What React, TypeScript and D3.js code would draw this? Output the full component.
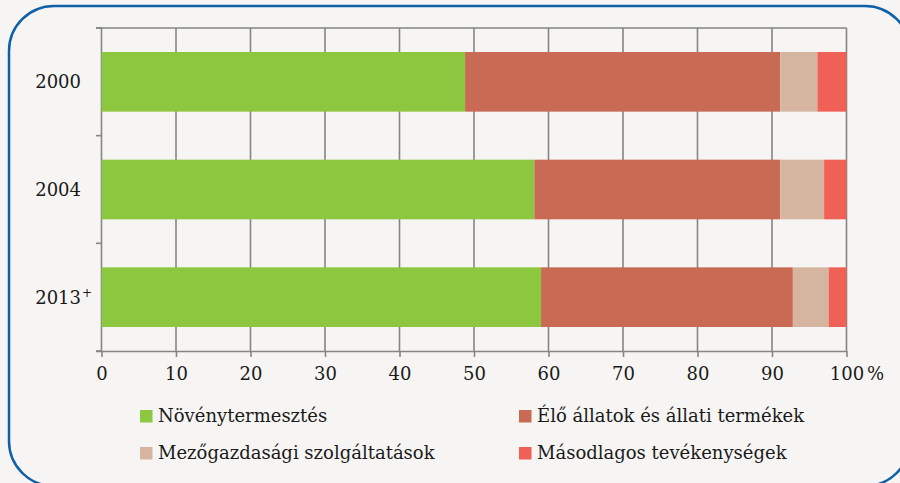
import React, { useRef, useEffect } from 'react';
import * as d3 from 'd3';

const years = ['2000', '2004', '2013'];
const yearMarks = ['', '', '+'];
const seriesNames = [
  'Növénytermesztés',
  'Élő állatok és állati termékek',
  'Mezőgazdasági szolgáltatások',
  'Másodlagos tevékenységek',
];
const colors = ['#8DC63F', '#C96A55', '#D5B5A0', '#EF6157'];
const crops = [48.8, 58.1, 59.0];
const animals = [42.3, 33.0, 33.8];
const services = [5.0, 5.9, 4.8];
const secondary = [3.9, 3.0, 2.4];
const xTicks = [0, 10, 20, 30, 40, 50, 60, 70, 80, 90, 100];

const W = 900;
const H = 483;
const FONT = 'DejaVu Serif';
const FS = '18px';

export default function App() {
  const xAxisRef = useRef<SVGGElement>(null);
  const yAxisRef = useRef<SVGGElement>(null);

  const x = d3.scaleLinear().domain([0, 100]).range([101.5, 846.5]);
  const y = d3.scaleBand().domain(years).range([28, 351]).paddingInner(0.446).paddingOuter(0.223);
  const yEdge = d3.scaleLinear().domain([0, years.length]).range([28, 351]);

  const table = years.map((yr, i) => ({
    year: yr,
    s0: crops[i],
    s1: animals[i],
    s2: services[i],
    s3: secondary[i],
  }));
  const stack = d3.stack<any>().keys(['s0', 's1', 's2', 's3'])(table);

  useEffect(() => {
    const gx = d3.select(xAxisRef.current);
    gx.call(
      d3.axisBottom(x).tickValues(xTicks).tickSize(6).tickSizeOuter(0).tickPadding(10)
        .tickFormat((d: any) => String(d))
    );
    gx.attr('font-family', null).attr('font-size', null);
    gx.select('.domain').attr('stroke', '#858585').attr('stroke-width', 1.6)
      .attr('d', `M96,0.5H${x(100)}`);
    gx.selectAll('.tick line').attr('stroke', '#858585').attr('stroke-width', 1.6);
    gx.selectAll('.tick text')
      .style('font-family', FONT).style('font-size', FS).attr('fill', '#1a1a1a');
    gx.selectAll('.pct').data([0]).join('text').attr('class', 'pct')
      .attr('x', x(100) + 29).attr('y', 29)
      .style('font-family', FONT).style('font-size', FS).attr('fill', '#1a1a1a').text('%');

    const gy = d3.select(yAxisRef.current);
    gy.call(d3.axisLeft(y).tickSize(0).tickFormat(() => ''));
    gy.select('.domain').remove();
    gy.selectAll('.tick text').remove();
    gy.selectAll('.ytick').data(d3.range(years.length + 1)).join('line')
      .attr('class', 'ytick')
      .attr('x1', 96).attr('x2', x(0))
      .attr('y1', (d) => yEdge(d)).attr('y2', (d) => yEdge(d))
      .attr('stroke', '#858585').attr('stroke-width', 1.6);
  }, []);

  const txt = { fontFamily: FONT, fontSize: FS };

  return (
    <svg width={W} height={H} style={{ position: 'absolute', left: 0, top: 0, display: 'block' }}>
      <rect width={W} height={H} fill="#F6F5F3" />
      <rect x={9} y={6} width={901} height={480} rx={45} ry={45}
        fill="none" stroke="#1060A8" strokeWidth={2.5} />

      {/* grid */}
      {xTicks.map((t) => (
        <line key={t} x1={x(t)} x2={x(t)} y1={28} y2={351}
          stroke="#858585" strokeWidth={1.6} />
      ))}
      <line x1={96} x2={x(100)} y1={28} y2={28} stroke="#858585" strokeWidth={1.6} />

      {/* bars */}
      {stack.map((layer, si) => (
        <g key={si} fill={colors[si]}>
          {layer.map((d, i) => (
            <rect key={i} x={x(d[0])} width={x(d[1]) - x(d[0])}
              y={y(years[i])} height={y.bandwidth()} />
          ))}
        </g>
      ))}

      <g ref={xAxisRef} transform="translate(0,351)" />
      <g ref={yAxisRef} />

      {/* category labels */}
      {years.map((yr, i) => {
        const cy = (y(yr) ?? 0) + y.bandwidth() / 2 + 6.5;
        return (
          <g key={yr}>
            <text x={81} y={cy} textAnchor="end" style={txt} fill="#1a1a1a">{yr}</text>
            {yearMarks[i] && (
              <text x={82} y={cy - 7} style={{ fontFamily: FONT, fontSize: '12px' }} fill="#1a1a1a">
                {yearMarks[i]}
              </text>
            )}
          </g>
        );
      })}

      {/* legend */}
      {seriesNames.map((name, i) => {
        const lx = i % 2 === 0 ? 140 : 519;
        const ly = i < 2 ? 410 : 447;
        return (
          <g key={name} transform={`translate(${lx},${ly})`}>
            <rect width={12.5} height={12.5} fill={colors[i]} />
            <text x={18} y={12} style={txt} fill="#1a1a1a">{name}</text>
          </g>
        );
      })}
    </svg>
  );
}
